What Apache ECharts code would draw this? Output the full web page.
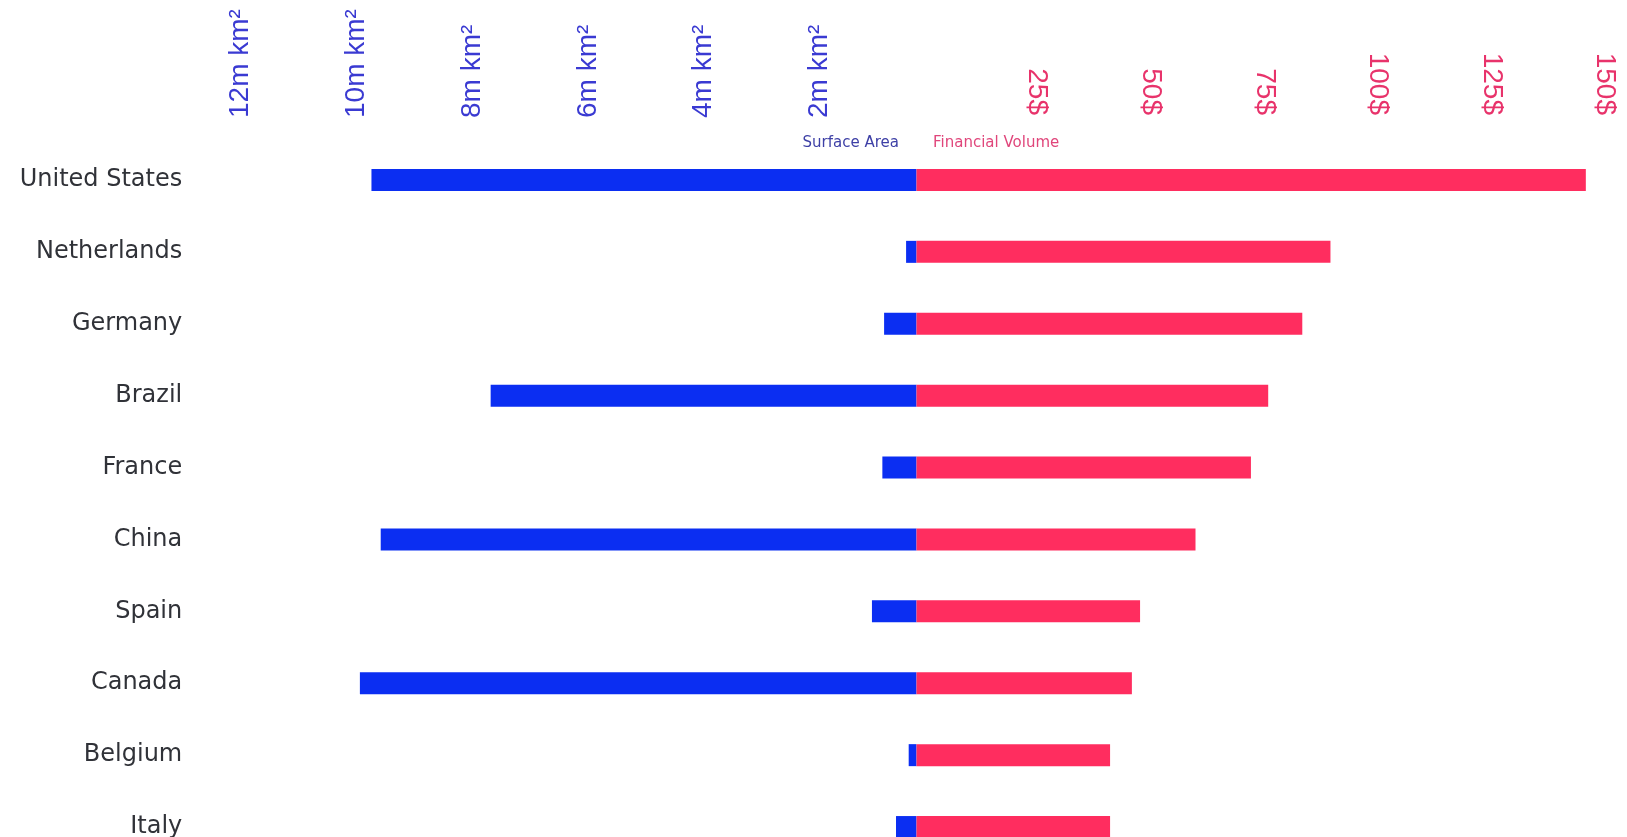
<!DOCTYPE html>
<html>
<head>
<meta charset="utf-8">
<script src="https://cdn.jsdelivr.net/npm/echarts@6/dist/echarts.min.js"></script>
<style>
html,body{margin:0;padding:0;background:#fff;}
#chart{width:1627px;height:837px;}
</style>
</head>
<body>
<div id="chart"></div>
<script>
var countries = ['United States','Netherlands','Germany','Brazil','France','China','Spain','Canada','Belgium','Italy'];
var surfaceArea = [9.42, 0.18, 0.56, 7.36, 0.59, 9.26, 0.77, 9.62, 0.135, 0.354];   // million km²
var financialVolume = [147.3, 91.1, 84.9, 77.4, 73.6, 61.4, 49.2, 47.4, 42.6, 42.6]; // $
var areaTicks = [2, 4, 6, 8, 10, 12];
var volumeTicks = [25, 50, 75, 100, 125, 150];

var BLUE = '#0b2ef2', RED = '#ff2d5f';
var chart = echarts.init(document.getElementById('chart'));
var option = {
  backgroundColor: '#fff',
  animation: false,
  grid: [
    {left: 193.25, right: 710.5, top: 144, height: 719, outerBoundsMode: 'none'},
    {left: 916.5, right: 28.9, top: 144, height: 719, outerBoundsMode: 'none'}
  ],
  xAxis: [
    {
      gridIndex: 0, type: 'value', position: 'top', inverse: true,
      min: 0, max: 12.5, interval: 2,
      axisLine: {show: false}, axisTick: {show: false}, splitLine: {show: false},
      axisLabel: {
        rotate: -90, margin: 26, color: '#3a3ad2', fontSize: 28,
        fontFamily: 'Liberation Sans',
        verticalAlign: 'top', lineHeight: 37,
        showMaxLabel: false,
        formatter: function (v) { return areaTicks.indexOf(v) >= 0 ? v + 'm km²' : ''; }
      }
    },
    {
      gridIndex: 1, type: 'value', position: 'top',
      min: 0, max: 150, interval: 25,
      axisLine: {show: false}, axisTick: {show: false}, splitLine: {show: false},
      axisLabel: {
        rotate: 90, margin: 29, color: '#e8336b', fontSize: 28,
        fontFamily: 'Liberation Sans',
        verticalAlign: 'bottom', lineHeight: 14,
        formatter: function (v) { return volumeTicks.indexOf(v) >= 0 ? v + '$' : ''; }
      }
    }
  ],
  yAxis: [
    {
      gridIndex: 0, type: 'category', data: countries, inverse: true,
      axisLine: {show: false}, axisTick: {show: false},
      axisLabel: {margin: 11, color: '#303238', fontSize: 24, fontFamily: 'DejaVu Sans'}
    },
    {
      gridIndex: 1, type: 'category', data: countries, inverse: true,
      axisLine: {show: false}, axisTick: {show: false}, axisLabel: {show: false}
    }
  ],
  series: [
    {type: 'bar', name: 'Surface Area', xAxisIndex: 0, yAxisIndex: 0, data: surfaceArea, barWidth: 22, itemStyle: {color: BLUE}},
    {type: 'bar', name: 'Financial Volume', xAxisIndex: 1, yAxisIndex: 1, data: financialVolume, barWidth: 22, itemStyle: {color: RED}}
  ],
  graphic: [
    {type: 'text', right: 1627 - 899, top: 136, style: {text: 'Surface Area', fill: '#3e40a6', font: '15px "DejaVu Sans"', textAlign: 'right'}},
    {type: 'text', left: 933, top: 136, style: {text: 'Financial Volume', fill: '#e0467b', font: '15px "DejaVu Sans"'}}
  ]
};
chart.setOption(option);
</script>
</body>
</html>
